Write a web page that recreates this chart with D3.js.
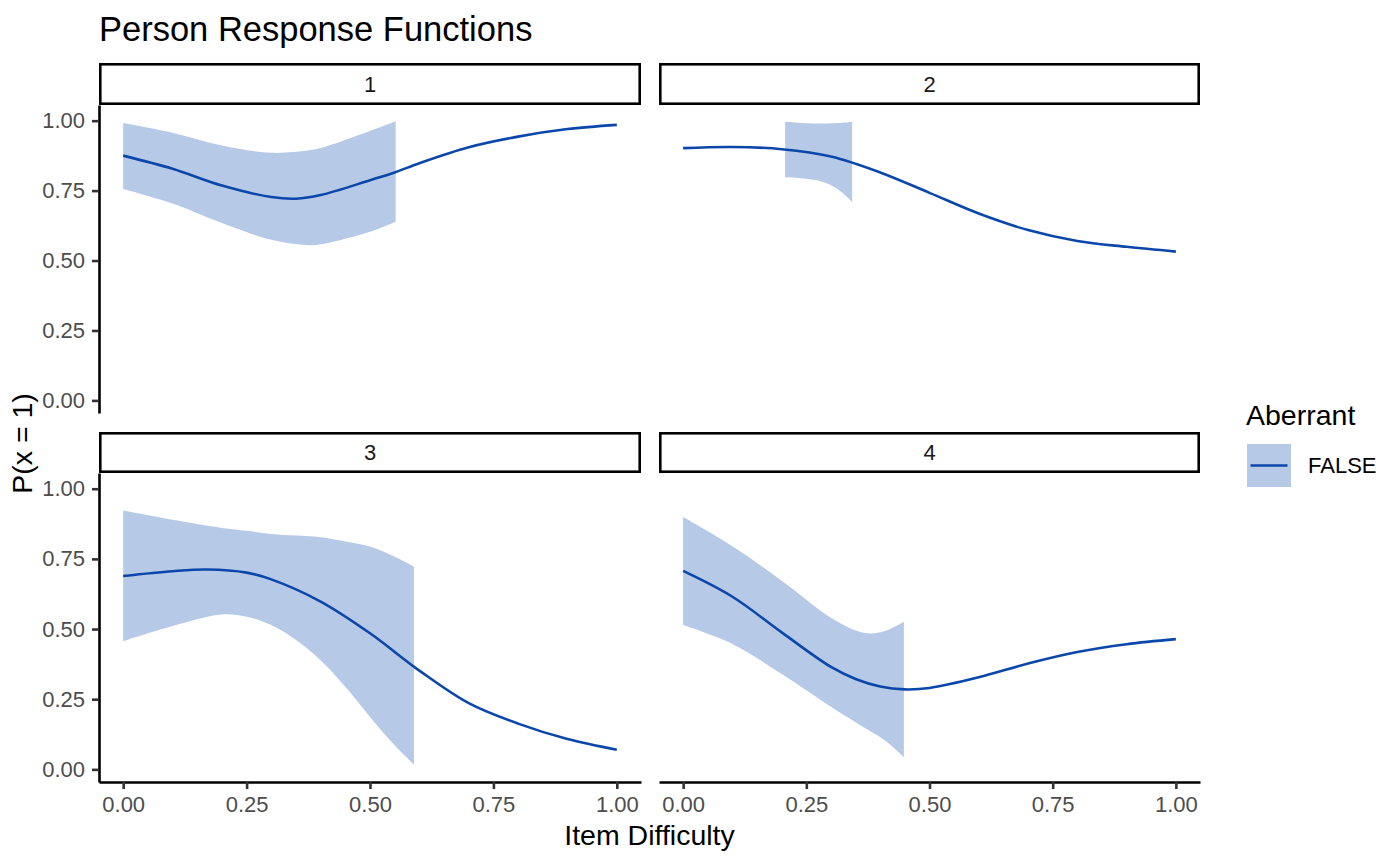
<!DOCTYPE html>
<html>
<head>
<meta charset="utf-8">
<script src="https://cdn.jsdelivr.net/npm/d3@7"></script>
<style>
  body { margin: 0; background: #fff; }
  svg { display: block; font-family: "Liberation Sans", Arial, sans-serif; }
</style>
</head>
<body>
<div id="chart"></div>
<script>
// ---- data ----
const persons = ["1", "2", "3", "4"];
const xTicks = [0, 0.25, 0.5, 0.75, 1];
const yTicks = [0, 0.25, 0.5, 0.75, 1];
const legendTitle = "Aberrant";
const legendLabels = ["FALSE"];

const p1LineX = [0, 0.1, 0.2, 0.3, 0.35, 0.4, 0.5, 0.55, 0.6, 0.7, 0.8, 0.9, 1];
const p1LineY = [0.875, 0.828, 0.768, 0.727, 0.721, 0.734, 0.787, 0.815, 0.848, 0.905, 0.943, 0.970, 0.985];
const p1BandX = [0, 0.1, 0.2, 0.3, 0.373, 0.4, 0.5, 0.552];
const p1BandLo = [0.756, 0.704, 0.634, 0.574, 0.555, 0.558, 0.603, 0.639];
const p1BandHi = [0.992, 0.957, 0.911, 0.885, 0.893, 0.902, 0.963, 0.998];

const p2LineX = [0, 0.1, 0.2, 0.3, 0.4, 0.5, 0.6, 0.7, 0.8, 0.9, 1];
const p2LineY = [0.902, 0.906, 0.898, 0.872, 0.815, 0.742, 0.668, 0.609, 0.57, 0.549, 0.532];
const p2BandX = [0.207, 0.25, 0.29, 0.32, 0.343];
const p2BandLo = [0.798, 0.792, 0.777, 0.747, 0.709];
const p2BandHi = [0.996, 0.991, 0.99, 0.992, 0.996];

const p3LineX = [0, 0.1, 0.17, 0.25, 0.3, 0.4, 0.5, 0.6, 0.7, 0.8, 0.9, 1];
const p3LineY = [0.689, 0.706, 0.712, 0.701, 0.677, 0.598, 0.485, 0.352, 0.236, 0.163, 0.108, 0.07];
const p3BandX = [0, 0.1, 0.2, 0.25, 0.3, 0.35, 0.4, 0.45, 0.5, 0.55, 0.589];
const p3BandLo = [0.457, 0.511, 0.552, 0.544, 0.514, 0.461, 0.389, 0.294, 0.187, 0.086, 0.017];
const p3BandHi = [0.922, 0.889, 0.86, 0.85, 0.839, 0.833, 0.827, 0.812, 0.794, 0.758, 0.723];

const p4LineX = [0, 0.1, 0.2, 0.3, 0.35, 0.4, 0.45, 0.5, 0.6, 0.7, 0.8, 0.9, 1];
const p4LineY = [0.707, 0.615, 0.488, 0.365, 0.322, 0.295, 0.285, 0.29, 0.328, 0.377, 0.418, 0.446, 0.464];
const p4BandX = [0, 0.1, 0.2, 0.3, 0.35, 0.38, 0.41, 0.448];
const p4BandLo = [0.514, 0.447, 0.34, 0.223, 0.168, 0.136, 0.103, 0.044];
const p4BandHi = [0.899, 0.795, 0.672, 0.54, 0.495, 0.484, 0.493, 0.526];

// ---- build panel records from the arrays ----
const zip = (xs, ys) => xs.map((x, i) => ({ x, y: ys[i] }));
const zipBand = (xs, lo, hi) => xs.map((x, i) => ({ x, lo: lo[i], hi: hi[i] }));

const panels = [
    { id: persons[0], line: zip(p1LineX, p1LineY), band: zipBand(p1BandX, p1BandLo, p1BandHi) },
    { id: persons[1], line: zip(p2LineX, p2LineY), band: zipBand(p2BandX, p2BandLo, p2BandHi) },
    { id: persons[2], line: zip(p3LineX, p3LineY), band: zipBand(p3BandX, p3BandLo, p3BandHi) },
    { id: persons[3], line: zip(p4LineX, p4LineY), band: zipBand(p4BandX, p4BandLo, p4BandHi) }
];

// ---- layout ----
const W = 1400, H = 866;
const LINE_COLOR = "#0b47aa";
const BAND_COLOR = "#b6c9e7";
const cols = [[99, 641], [659, 1200]];
const rows = [
    { strip: [63, 105], plot: [105, 413] },
    { strip: [432, 473], plot: [473, 782] }
];
const xDomain = [-0.049, 1.049];
const yDomain = [-0.045, 1.056];

const svg = d3.select("#chart").append("svg")
    .attr("width", W)
    .attr("height", H);

svg.append("rect").attr("width", W).attr("height", H).attr("fill", "#fff");

panels.forEach((p, i) => {
    const c = cols[i % 2];
    const r = rows[Math.floor(i / 2)];

    const x = d3.scaleLinear().domain(xDomain).range(c);
    const y = d3.scaleLinear().domain(yDomain).range([r.plot[1], r.plot[0]]);

    const g = svg.append("g").attr("class", "panel");

    // ribbon
    const area = d3.area()
        .x(d => x(d.x))
        .y0(d => y(d.lo))
        .y1(d => y(d.hi))
        .curve(d3.curveCatmullRom.alpha(0.5));

    g.append("path")
        .datum(p.band)
        .attr("d", area)
        .attr("fill", BAND_COLOR);

    // fitted line
    const line = d3.line()
        .x(d => x(d.x))
        .y(d => y(d.y))
        .curve(d3.curveCatmullRom.alpha(0.5));

    g.append("path")
        .datum(p.line)
        .attr("d", line)
        .attr("fill", "none")
        .attr("stroke", LINE_COLOR)
        .attr("stroke-width", 2.6);

    // strip
    g.append("rect")
        .attr("x", c[0] + 1.3)
        .attr("y", r.strip[0] + 1.3)
        .attr("width", c[1] - c[0] - 2.6)
        .attr("height", r.strip[1] - r.strip[0] - 2.6)
        .attr("fill", "#fff")
        .attr("stroke", "#000")
        .attr("stroke-width", 2.6);

    g.append("text")
        .attr("x", (c[0] + c[1]) / 2)
        .attr("y", (r.strip[0] + r.strip[1]) / 2)
        .attr("dy", "0.36em")
        .attr("text-anchor", "middle")
        .attr("font-size", 22)
        .attr("fill", "#1a1a1a")
        .text(p.id);

    // y axis on left column only
    if (i % 2 === 0) {
        const ax = svg.append("g")
            .attr("class", "axis")
            .attr("transform", `translate(${c[0]},0)`)
            .call(d3.axisLeft(y).tickValues(yTicks).tickFormat(d3.format(".2f"))
                .tickSize(7).tickSizeOuter(0).tickPadding(7));
        styleAxis(ax);
    }

    // x axis on bottom row only
    if (i >= 2) {
        const ax = svg.append("g")
            .attr("class", "axis")
            .attr("transform", `translate(0,${r.plot[1]})`)
            .call(d3.axisBottom(x).tickValues(xTicks).tickFormat(d3.format(".2f"))
                .tickSize(7).tickSizeOuter(0).tickPadding(7));
        styleAxis(ax);
    }
});

function styleAxis(ax) {
    ax.select(".domain").attr("stroke", "#000").attr("stroke-width", 2.6);
    ax.selectAll(".tick line").attr("stroke", "#333").attr("stroke-width", 2.6);
    ax.selectAll(".tick text")
        .attr("fill", "#4d4d4d")
        .attr("font-size", 22)
        .attr("font-family", "Liberation Sans, Arial, sans-serif");
}

// titles
svg.append("text")
    .attr("x", 99)
    .attr("y", 41)
    .attr("font-size", 34.5)
    .attr("fill", "#000")
    .text("Person Response Functions");

svg.append("text")
    .attr("x", (cols[0][0] + cols[1][1]) / 2)
    .attr("y", 845)
    .attr("text-anchor", "middle")
    .attr("font-size", 28.5)
    .attr("fill", "#000")
    .text("Item Difficulty");

svg.append("text")
    .attr("transform", `translate(32,${(rows[0].plot[0] + rows[1].plot[1]) / 2}) rotate(-90)`)
    .attr("text-anchor", "middle")
    .attr("font-size", 28.5)
    .attr("fill", "#000")
    .text("P(x = 1)");

// legend
const legend = svg.append("g").attr("transform", "translate(1246,0)");

legend.append("text")
    .attr("x", 0)
    .attr("y", 425)
    .attr("font-size", 28.5)
    .attr("fill", "#000")
    .text(legendTitle);

legendLabels.forEach((lab, k) => {
    const top = 444 + k * 44;
    legend.append("rect")
        .attr("x", 1)
        .attr("y", top)
        .attr("width", 44)
        .attr("height", 43)
        .attr("fill", BAND_COLOR);
    legend.append("line")
        .attr("x1", 4.5).attr("x2", 41.5)
        .attr("y1", top + 21.5).attr("y2", top + 21.5)
        .attr("stroke", LINE_COLOR)
        .attr("stroke-width", 2.7);
    legend.append("text")
        .attr("x", 62)
        .attr("y", top + 29)
        .attr("font-size", 22)
        .attr("fill", "#000")
        .text(lab);
});
</script>
</body>
</html>
